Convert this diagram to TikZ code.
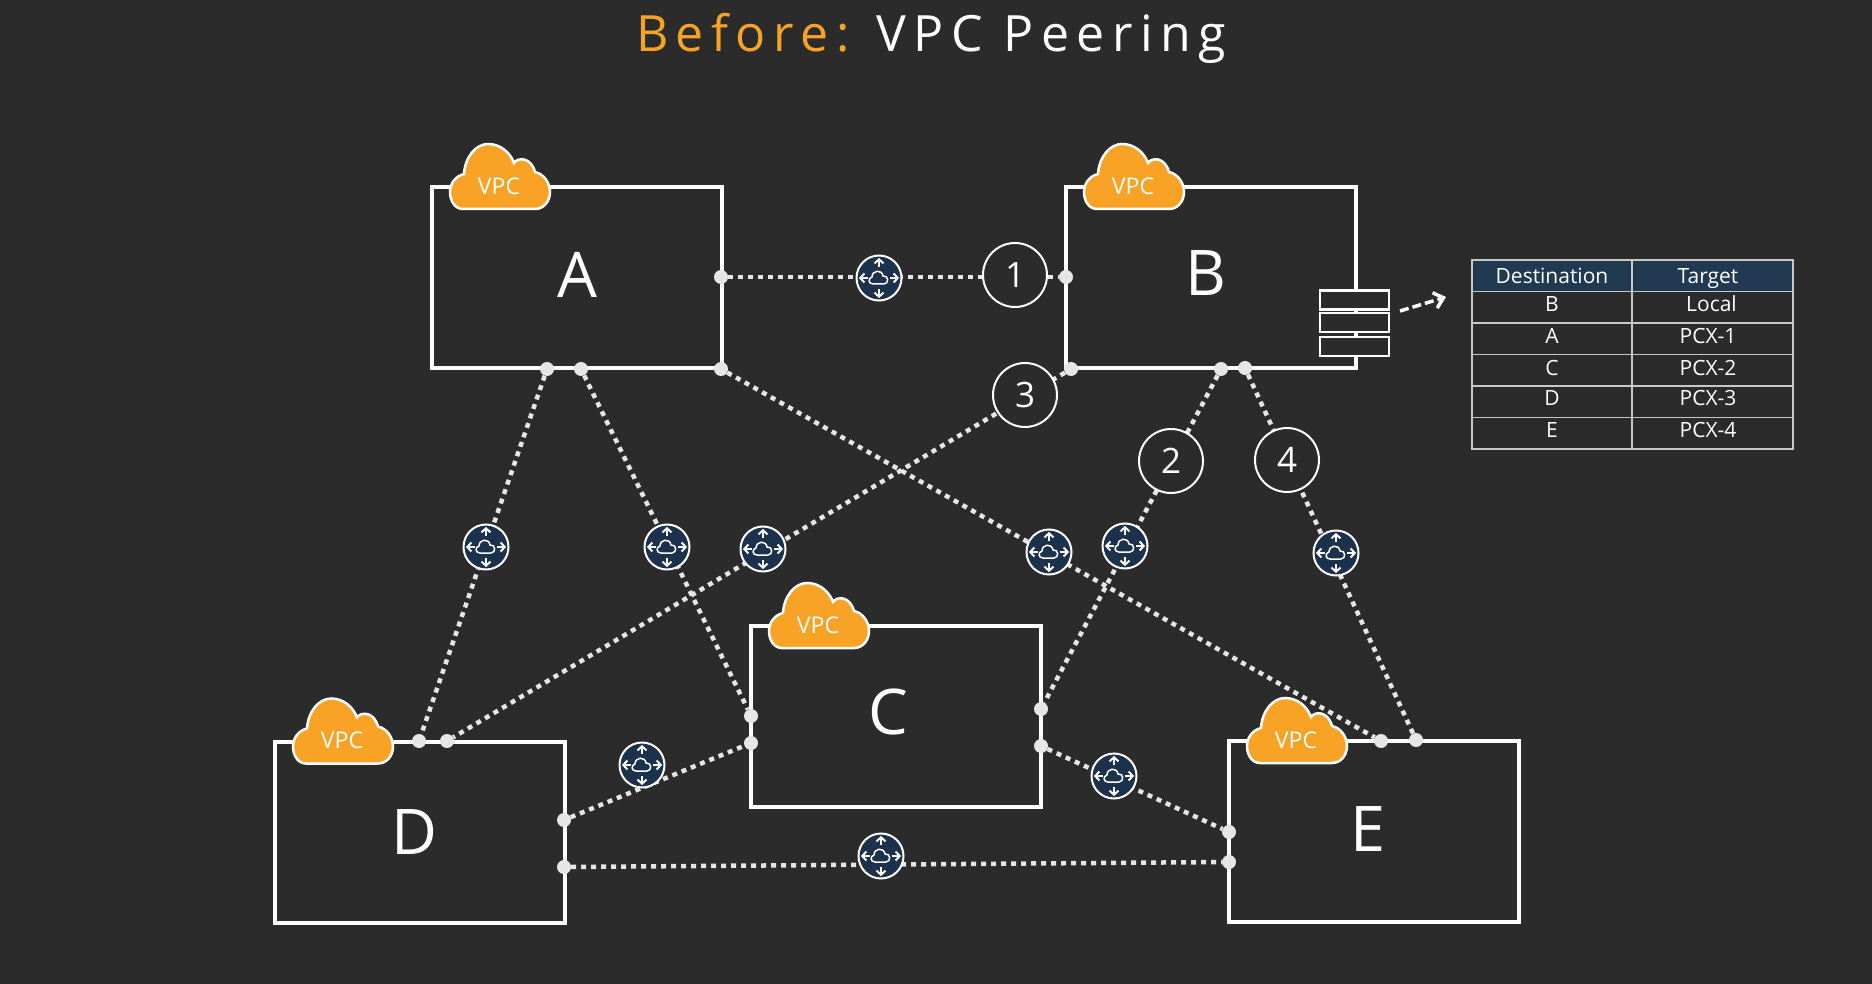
\documentclass[tikz,border=0pt]{standalone}
\usepackage{fontspec}
\setmainfont{Open Sans}
\newfontfamily\titlefont[LetterSpace=15]{Open Sans}
\usetikzlibrary{arrows.meta,backgrounds}
\definecolor{slate}{HTML}{2B2B2B}
\definecolor{vpcorange}{HTML}{F9A326}
\definecolor{gwnavy}{HTML}{1C324C}
\definecolor{headnavy}{HTML}{213A52}
\definecolor{rulegrey}{HTML}{C8C8C8}
\definecolor{dotgrey}{HTML}{E6E6E6}
\begin{document}
\begin{tikzpicture}[x=1pt,y=-1pt,
  vpcbox/.style={draw=white,line width=4pt,minimum width=290pt,minimum height=181pt,inner sep=0pt},
  boxlabel/.style={text=white,font=\fontsize{63}{63}\selectfont,inner sep=0pt},
  dot/.style={circle,fill=dotgrey,inner sep=0pt,minimum size=14pt},
  gateway/.style={circle,draw=white,fill=gwnavy,line width=2pt,inner sep=0pt,minimum size=45pt},
  numbered/.style={circle,draw=white,fill=slate,line width=2pt,inner sep=0pt,minimum size=64pt,
    text=white,font=\fontsize{35}{35}\selectfont},
  link/.style={draw=dotgrey,line width=4.5pt,dash pattern=on 5pt off 5pt},
  routerow/.style={draw=white,fill=slate,line width=2.5pt,minimum width=69pt,minimum height=19pt,inner sep=0pt},
  cell/.style={draw=rulegrey,line width=1.5pt,text=white,inner sep=0pt,minimum height=31.5pt,
    text height=15pt,text depth=6pt,font=\fontsize{21}{21}\selectfont},
  vpccloud/.pic={
    \fill[vpcorange,draw=white,line width=2.5pt] (31,22) .. controls (23,22) and (18,14) .. (18,5)
      .. controls (18,-4) and (24,-11) .. (32,-13) .. controls (33,-30) and (44,-43) .. (56,-43)
      .. controls (68,-43) and (78,-35) .. (82,-24) .. controls (86,-30) and (99,-30) .. (103,-15)
      .. controls (112,-13) and (118,-4) .. (118,5) .. controls (118,14) and (112,22) .. (103,22) -- cycle;
    \node[text=white,inner sep=0pt,font=\fontsize{23}{23}\selectfont] (-tag) at (67,-1) {VPC};
  },
  gwicon/.pic={
    \foreach \a in {0,90,180,270}
      \draw[white,line width=2pt,-{Straight Barb[length=4pt,width=9pt]},rotate=\a] (11,0) -- (20,0);
    \draw[white,line width=1.5pt,fill=gwnavy] (-6,6) .. controls (-11,6) and (-11,0) .. (-7,-1)
      .. controls (-7,-8) and (3,-9) .. (4,-2) .. controls (10,-3) and (10,6) .. (5,6) -- cycle;
  }]
\useasboundingbox (0,0) rectangle (1872,984);
\node[text=white,inner sep=0pt,font=\titlefont\fontsize{50}{50}\selectfont] (title) at (931,38)
  {\textcolor{vpcorange}{Before:} VPC Peering};
% the five VPCs
\foreach \n/\x/\y/\lx/\ly in {A/577/277.5/577/275,B/1211/277.5/1206/273,C/896/716.5/888/712,
    D/420/832/414/832,E/1374/831.5/1368/829}{
  \node[vpcbox] (box\n) at (\x,\y) {};
  \node[boxlabel] (label\n) at (\lx,\ly) {\n};
  \pic[shift={(2,2)}] (cloud\n) at (box\n.north west) {vpccloud};
}
% end points on the box edges
\foreach \n/\x/\y in {a1/721/277,a2/721/369,a3/547/369,a4/581/369,
    b1/1066/277,b2/1071/369,b3/1221/369,b4/1245/368,
    c1/751/716,c2/751/743,c3/1041/709,c4/1041/746,
    d1/419/741,d2/447/741,d3/564/820,d4/564/867,
    e1/1381/741,e2/1416/740,e3/1229/832,e4/1229/862}
  \node[dot] (\n) at (\x,\y) {};
% peering gateways
\foreach \n/\x/\y in {1/879/278,2/486/547,3/667/547,4/763/549,5/1049/552,
    6/1125/546,7/1336/553,8/642/765,9/1114/776,10/881/856}{
  \node[gateway] (gw\n) at (\x,\y) {};
  \pic (gwicon\n) at (gw\n) {gwicon};
}
\node[numbered] (one) at (1015,275) {1};
\node[numbered] (two) at (1171,461) {2};
\node[numbered] (three) at (1025,395) {3};
\node[numbered] (four) at (1287,460) {4};
\begin{scope}[on background layer]
  \fill[slate] (0,0) rectangle (1872,984);
  \draw[link] (a1) -- (b1);
  \draw[link] (a3) -- (d1);
  \draw[link] (a4) -- (c1);
  \draw[link] (b2) -- (d2);
  \draw[link] (a2) -- (e1);
  \draw[link] (b3) -- (c3);
  \draw[link] (b4) -- (e2);
  \draw[link] (d3) -- (c2);
  \draw[link] (c4) -- (e3);
  \draw[link] (d4) -- (e4);
\end{scope}
% route table on B
\node[routerow] (rt1) at (1354.5,300) {};
\node[routerow] (rt2) at (1354.5,322.5) {};
\node[routerow] (rt3) at (1354.5,346.5) {};
\coordinate (arrowstart) at (1400,311);
\coordinate (arrowend) at (1446,297);
\draw[white,line width=3.5pt,dash pattern=on 9pt off 4pt,-{Straight Barb[length=9pt,width=16pt]}] (arrowstart) -- (arrowend);
\node[cell,fill=headnavy,minimum width=160pt,text depth=0pt] (dest0) at (1552,276) {Destination};
\node[cell,fill=headnavy,minimum width=161pt,text depth=0pt] (targ0) at (1712.5,276) {Target\hspace*{9pt}};
\foreach \i/\d/\t/\k/\y in {1/B/Local/2/307.5,2/A/PCX-1/9/339,3/C/PCX-2/9/370.5,4/D/PCX-3/9/401.5,5/E/PCX-4/9/433}{
  \node[cell,minimum width=160pt] (dest\i) at (1552,\y) {\d};
  \node[cell,minimum width=161pt] (targ\i) at (1712.5,\y) {\t\hspace*{\k pt}};
}
\end{tikzpicture}
\end{document}
